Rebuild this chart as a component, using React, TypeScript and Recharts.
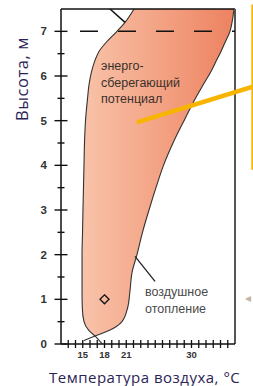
import {
  ComposedChart, Area, XAxis, YAxis, ReferenceLine, ReferenceDot,
} from "recharts";

// height above floor, m
const heights = [0.18, 0.3, 0.5, 0.8, 1.2, 1.6, 2.0, 2.5, 3.0, 3.5, 4.0, 4.5, 5.0, 5.5, 5.8, 6.1, 6.35, 6.55, 6.75, 7.0, 7.2, 7.5];
// left edge of the zone (air heating), °C
const leftTemp = [16.69, 15.86, 15.17, 14.94, 14.9, 14.9, 14.9, 14.97, 15.03, 15.1, 15.17, 15.24, 15.38, 15.66, 15.86, 16.21, 16.69, 17.24, 18.21, 19.72, 20.83, 22.07];
// right edge of the zone, °C
const rightTemp = [16.69, 18.62, 20.41, 21.17, 21.52, 21.79, 22.48, 23.24, 24.14, 25.1, 26.14, 27.45, 28.97, 30.55, 31.59, 32.69, 33.45, 34.07, 34.62, 35.31, 35.59, 35.86];

const yTicks = [0, 0.5, 1, 1.5, 2, 2.5, 3, 3.5, 4, 4.5, 5, 5.5, 6, 6.5, 7];
const xTicks = [13, 14, 15, 16, 17, 18, 19, 20, 21, 22, 23, 24, 25, 26, 27, 28, 29, 30, 31, 32, 33, 34, 35];
const xLabels = [15, 18, 21, 30];

const bandData = heights.map((h, i) => ({ h, band: [leftTemp[i], rightTemp[i]] }));

const tickFont = { fontFamily: "Liberation Sans, Arial, sans-serif", fontWeight: 700 };

const YTick = ({ x, y, payload }: any) => {
  const major = Number.isInteger(payload.value);
  const half = major ? 6.5 : 3.5;
  return (
    <g>
      <line x1={x - half} x2={x + half} y1={y} y2={y} stroke="#111" strokeWidth={1.4} />
      {major && (
        <text x={x - 14} y={y} dy="0.36em" textAnchor="end" fontSize={11.5} fill="#333" style={tickFont}>
          {payload.value}
        </text>
      )}
    </g>
  );
};

const XTick = ({ x, y, payload }: any) => (
  <g>
    <line x1={x} x2={x} y1={y - 4} y2={y + 4} stroke="#111" strokeWidth={1.3} />
    {xLabels.includes(payload.value) && (
      <text x={x} y={y + 11} dy="0.36em" textAnchor="middle" fontSize={9.5} fill="#333" style={tickFont}>
        {payload.value}
      </text>
    )}
  </g>
);

const Diamond = ({ cx, cy }: any) => (
  <polygon
    points={`${cx},${cy - 4.5} ${cx + 4.5},${cy} ${cx},${cy + 4.5} ${cx - 4.5},${cy}`}
    fill="none" stroke="#111" strokeWidth={1.3}
  />
);

const noteStyle: React.CSSProperties = {
  position: "absolute",
  fontFamily: "Liberation Sans, Arial, sans-serif",
  fontSize: 12.5,
  lineHeight: "16.7px",
  whiteSpace: "nowrap",
};

const titleStyle: React.CSSProperties = {
  position: "absolute",
  fontFamily: "Open Sans, sans-serif",
  fontSize: 15,
  color: "#2b2456",
  whiteSpace: "nowrap",
  lineHeight: "20px",
};

export default function App() {
  return (
    <div style={{ position: "fixed", left: 0, top: 0, width: 253, height: 386, overflow: "hidden", background: "#fff" }}>
      <ComposedChart
        width={253}
        height={386}
        layout="vertical"
        data={bandData}
        margin={{ top: 9, right: 18, left: 21, bottom: 22 }}
      >
        <defs>
          <linearGradient id="zoneGrad" x1="0" y1="0" x2="1" y2="0">
            <stop offset="0%" stopColor="#f8c3aa" />
            <stop offset="55%" stopColor="#f3a081" />
            <stop offset="100%" stopColor="#ec8260" />
          </linearGradient>
        </defs>
        <XAxis
          type="number" domain={[12, 36]} ticks={xTicks} interval={0} allowDataOverflow
          height={20} tickSize={0} tickMargin={0} tick={<XTick />}
          axisLine={{ stroke: "#111", strokeWidth: 1.5 }}
        />
        <YAxis
          type="number" dataKey="h" domain={[0, 7.5]} ticks={yTicks} interval={0} allowDataOverflow reversed
          width={40} tickSize={0} tickMargin={0} tick={<YTick />}
          axisLine={{ stroke: "#111", strokeWidth: 1.5 }}
        />
        <Area
          dataKey="band" type="monotone" fill="url(#zoneGrad)" fillOpacity={1}
          stroke="#333" strokeWidth={1.1} isAnimationActive={false}
        />
        {/* frame */}
        <ReferenceLine y={7.5} stroke="#111" strokeWidth={1.4} ifOverflow="visible" />
        <ReferenceLine x={36} stroke="#555" strokeWidth={2} ifOverflow="visible" />
        <ReferenceLine
          segment={[{ x: 14.62, y: 7 }, { x: 36, y: 7 }]}
          stroke="#111" strokeWidth={1.5} strokeDasharray="18 20" ifOverflow="visible"
        />
        <ReferenceLine segment={[{ x: 18.76, y: 7.5 }, { x: 20.83, y: 7.2 }]} stroke="#111" strokeWidth={1.5} ifOverflow="visible" />
        {/* crossing at the floor */}
        <ReferenceLine segment={[{ x: 16.69, y: 0.18 }, { x: 17.66, y: 0.01 }]} stroke="#333" strokeWidth={1.1} ifOverflow="visible" />
        <ReferenceLine segment={[{ x: 16.69, y: 0.18 }, { x: 15.17, y: 0.08 }]} stroke="#333" strokeWidth={1.1} ifOverflow="visible" />
        {/* leader to the "air heating" note */}
        <ReferenceLine segment={[{ x: 22.21, y: 1.96 }, { x: 24.97, y: 1.4 }]} stroke="#222" strokeWidth={1.3} ifOverflow="visible" />
        {/* yellow callout */}
        <ReferenceLine segment={[{ x: 22.48, y: 4.96 }, { x: 38.6, y: 5.77 }]} stroke="#f8b500" strokeWidth={4.5} ifOverflow="visible" />
        <ReferenceLine segment={[{ x: 38.39, y: 7.6 }, { x: 38.39, y: 3.9 }]} stroke="#f8b500" strokeWidth={2} ifOverflow="visible" />
        <ReferenceDot x={18} y={1.0} shape={<Diamond />} ifOverflow="visible" />
      </ComposedChart>

      <div style={{ ...noteStyle, left: 101, top: 58, color: "#3b302b" }}>
        энерго-<br />сберегающий<br />потенциал
      </div>
      <div style={{ ...noteStyle, left: 145, top: 284, color: "#4a4a4a" }}>
        воздушное<br />отопление
      </div>
      <div style={{ position: "absolute", left: 245, top: 291, fontSize: 12, color: "#c4b2a2", fontFamily: "DejaVu Sans" }}>◂</div>

      <div style={{ ...titleStyle, fontSize: 16.5, letterSpacing: 0.6, left: 22, top: 79, transform: "translate(-50%, -50%) rotate(-90deg)" }}>
        Высота, м
      </div>
      <div style={{ ...titleStyle, letterSpacing: 0.5, left: 49, top: 367 }}>
        Температура воздуха, °С
      </div>
    </div>
  );
}
